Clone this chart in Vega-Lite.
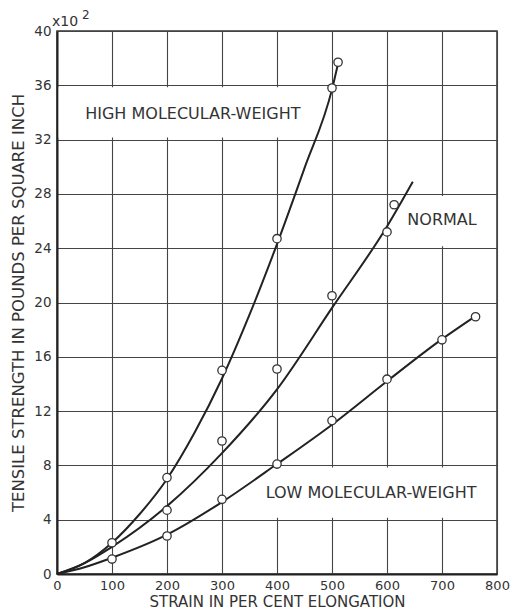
{
  "$schema": "https://vega.github.io/schema/vega-lite/v6.json",
  "width": 440,
  "height": 543,
  "autosize": {"type": "none"},
  "padding": {"left": 57, "top": 31, "right": 16, "bottom": 41},
  "background": "white",
  "config": {
    "font": "DejaVu Sans",
    "view": {"stroke": "#333", "strokeWidth": 1.5},
    "axis": {
      "grid": true, "gridColor": "#444", "gridWidth": 1.1, "gridOpacity": 1,
      "domainColor": "#222", "domainWidth": 2, "ticks": false,
      "labelFont": "DejaVu Sans", "labelFontSize": 13.5, "labelColor": "#333",
      "titleFont": "DejaVu Sans", "titleFontSize": 16.5, "titleFontWeight": "normal", "titleColor": "#333"
    }
  },
  "datasets": {
    "boxes": [
      {"x": 3, "x2": 452, "y": 32.15, "y2": 35.85},
      {"x": 612, "x2": 796, "y": 24.15, "y2": 27.85},
      {"x": 362, "x2": 796, "y": 4.15, "y2": 7.85}
    ],
    "curves": [
      {"series": "high", "strain": 0, "strength": 0},
      {"series": "high", "strain": 50, "strength": 0.8},
      {"series": "high", "strain": 100, "strength": 2.3},
      {"series": "high", "strain": 150, "strength": 4.4},
      {"series": "high", "strain": 200, "strength": 7.0},
      {"series": "high", "strain": 250, "strength": 10.4},
      {"series": "high", "strain": 300, "strength": 14.4},
      {"series": "high", "strain": 350, "strength": 19.1},
      {"series": "high", "strain": 400, "strength": 24.3},
      {"series": "high", "strain": 450, "strength": 29.9},
      {"series": "high", "strain": 500, "strength": 35.7},
      {"series": "high", "strain": 511, "strength": 37.6},
      {"series": "normal", "strain": 0, "strength": 0},
      {"series": "normal", "strain": 50, "strength": 0.8},
      {"series": "normal", "strain": 100, "strength": 2.0},
      {"series": "normal", "strain": 200, "strength": 5.0},
      {"series": "normal", "strain": 300, "strength": 8.9},
      {"series": "normal", "strain": 400, "strength": 13.6},
      {"series": "normal", "strain": 500, "strength": 19.6},
      {"series": "normal", "strain": 600, "strength": 25.6},
      {"series": "normal", "strain": 647, "strength": 28.9},
      {"series": "low", "strain": 0, "strength": 0},
      {"series": "low", "strain": 50, "strength": 0.5},
      {"series": "low", "strain": 100, "strength": 1.2},
      {"series": "low", "strain": 200, "strength": 2.9},
      {"series": "low", "strain": 300, "strength": 5.3},
      {"series": "low", "strain": 400, "strength": 8.1},
      {"series": "low", "strain": 500, "strength": 11.0},
      {"series": "low", "strain": 600, "strength": 14.2},
      {"series": "low", "strain": 700, "strength": 17.3},
      {"series": "low", "strain": 761, "strength": 19.0}
    ],
    "points": [
      {"series": "high", "strain": 100, "strength": 2.3},
      {"series": "high", "strain": 200, "strength": 7.1},
      {"series": "high", "strain": 300, "strength": 15.0},
      {"series": "high", "strain": 400, "strength": 24.7},
      {"series": "high", "strain": 500, "strength": 35.8},
      {"series": "high", "strain": 511, "strength": 37.7},
      {"series": "normal", "strain": 200, "strength": 4.7},
      {"series": "normal", "strain": 300, "strength": 9.8},
      {"series": "normal", "strain": 400, "strength": 15.1},
      {"series": "normal", "strain": 500, "strength": 20.5},
      {"series": "normal", "strain": 600, "strength": 25.2},
      {"series": "normal", "strain": 613, "strength": 27.2},
      {"series": "low", "strain": 100, "strength": 1.1},
      {"series": "low", "strain": 200, "strength": 2.8},
      {"series": "low", "strain": 300, "strength": 5.5},
      {"series": "low", "strain": 400, "strength": 8.1},
      {"series": "low", "strain": 500, "strength": 11.3},
      {"series": "low", "strain": 600, "strength": 14.35},
      {"series": "low", "strain": 700, "strength": 17.25},
      {"series": "low", "strain": 761, "strength": 18.95}
    ],
    "labels": [
      {"text": "HIGH MOLECULAR-WEIGHT", "strain": 247, "strength": 33.9},
      {"text": "NORMAL", "strain": 700, "strength": 26.1},
      {"text": "LOW MOLECULAR-WEIGHT", "strain": 571, "strength": 5.95}
    ],
    "mult": [{"text": "x10", "sup": "2", "strain": 0, "strength": 40}]
  },
  "layer": [
    {
      "data": {"name": "boxes"},
      "mark": {"type": "rect", "fill": "white", "stroke": null},
      "encoding": {
        "x": {"field": "x", "type": "quantitative", "scale": {"domain": [0, 800], "nice": false},
          "axis": {"values": [0,100,200,300,400,500,600,700,800], "title": "STRAIN IN PER CENT ELONGATION", "titleFontSize": 15, "labelFontSize": 13, "labelPadding": 5, "titlePadding": 2, "labelFlush": false}},
        "x2": {"field": "x2"},
        "y": {"field": "y", "type": "quantitative", "scale": {"domain": [0, 40], "nice": false},
          "axis": {"values": [0,4,8,12,16,20,24,28,32,36,40], "title": "TENSILE STRENGTH IN POUNDS PER SQUARE INCH", "labelPadding": 6, "titlePadding": 7}},
        "y2": {"field": "y2"}
      }
    },
    {
      "data": {"name": "curves"},
      "mark": {"type": "line", "interpolate": "monotone", "color": "#222", "strokeWidth": 2},
      "encoding": {
        "x": {"field": "strain", "type": "quantitative"},
        "y": {"field": "strength", "type": "quantitative"},
        "detail": {"field": "series"}
      }
    },
    {
      "data": {"name": "points"},
      "mark": {"type": "point", "shape": "circle", "filled": false, "fill": "white", "fillOpacity": 1, "stroke": "#333", "strokeWidth": 1.3, "size": 70, "opacity": 1},
      "encoding": {
        "x": {"field": "strain", "type": "quantitative"},
        "y": {"field": "strength", "type": "quantitative"}
      }
    },
    {
      "data": {"name": "labels"},
      "mark": {"type": "text", "font": "DejaVu Sans", "fontSize": 16, "color": "#333", "align": "center", "baseline": "middle"},
      "encoding": {
        "x": {"field": "strain", "type": "quantitative"},
        "y": {"field": "strength", "type": "quantitative"},
        "text": {"field": "text"}
      }
    },
    {
      "data": {"name": "mult"},
      "mark": {"type": "text", "font": "DejaVu Sans", "fontSize": 14, "color": "#333", "align": "left", "baseline": "middle", "dx": -5, "dy": -9},
      "encoding": {
        "x": {"field": "strain", "type": "quantitative"},
        "y": {"field": "strength", "type": "quantitative"},
        "text": {"field": "text"}
      }
    },
    {
      "data": {"name": "mult"},
      "mark": {"type": "text", "font": "DejaVu Sans", "fontSize": 12, "color": "#333", "align": "left", "baseline": "middle", "dx": 25, "dy": -16},
      "encoding": {
        "x": {"field": "strain", "type": "quantitative"},
        "y": {"field": "strength", "type": "quantitative"},
        "text": {"field": "sup"}
      }
    }
  ]
}
